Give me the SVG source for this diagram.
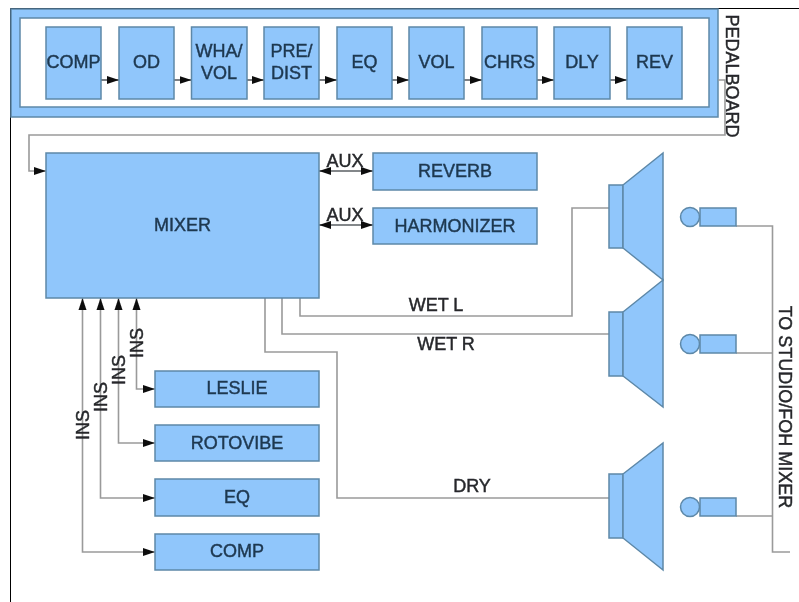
<svg xmlns="http://www.w3.org/2000/svg" width="799" height="602" viewBox="0 0 799 602">
<defs>
<filter id="soft" x="-2%" y="-2%" width="104%" height="104%"><feGaussianBlur stdDeviation="0.7"/></filter>
<marker id="a" markerUnits="userSpaceOnUse" markerWidth="13" markerHeight="10" refX="12" refY="5" orient="auto"><path d="M0,1 L12,5 L0,9 Z" fill="#111"/></marker>
<marker id="b" markerUnits="userSpaceOnUse" markerWidth="13" markerHeight="10" refX="12" refY="5" orient="auto-start-reverse"><path d="M0,1 L12,5 L0,9 Z" fill="#111"/></marker>
</defs>
<style>
.n{fill:#90c6fb;stroke:#5d88a8;stroke-width:1.5}
.c{fill:none;stroke:#9a9a9a;stroke-width:1.6}
.s{stroke:#5a5f64}
text{font-family:"Liberation Sans",Arial,sans-serif;font-size:18px;fill:#1f3850;stroke:#1f3850;stroke-width:.45;text-anchor:middle;dominant-baseline:central}
.k{fill:#26282b;stroke:#26282b;font-size:18px}
</style>
<rect width="799" height="602" fill="#fff"/>
<path d="M10.500,602V8.500H799" fill="none" stroke="#000" stroke-width="1"/>
<g filter="url(#soft)">
<g id="pedalboard">
<rect class="n" x="11" y="9" width="707" height="108"/>
<rect x="20" y="18" width="689" height="89" fill="#fff" stroke="#5d88a8" stroke-width="1.500"/>
<text class="k" transform="translate(732,76) rotate(90)">PEDALBOARD</text>
</g>
<g id="connectors">
<path class="c s" marker-end="url(#a)" d="M101,80H119"/>
<path class="c s" marker-end="url(#a)" d="M174,80H191.500"/>
<path class="c s" marker-end="url(#a)" d="M247,80H264"/>
<path class="c s" marker-end="url(#a)" d="M319,80H337"/>
<path class="c s" marker-end="url(#a)" d="M392,80H409"/>
<path class="c s" marker-end="url(#a)" d="M464,80H482"/>
<path class="c s" marker-end="url(#a)" d="M537,80H554"/>
<path class="c s" marker-end="url(#a)" d="M610,80H627"/>
<path class="c" marker-end="url(#a)" d="M718,80H725V135H29V171H46"/>
<path class="c s" marker-start="url(#b)" marker-end="url(#b)" d="M319,171H373"/>
<path class="c s" marker-start="url(#b)" marker-end="url(#b)" d="M319,225H373"/>
<path class="c" marker-start="url(#b)" marker-end="url(#a)" d="M136.500,298V389H155"/>
<path class="c" marker-start="url(#b)" marker-end="url(#a)" d="M118.500,298V443H155"/>
<path class="c" marker-start="url(#b)" marker-end="url(#a)" d="M100.500,298V498H155"/>
<path class="c" marker-start="url(#b)" marker-end="url(#a)" d="M82.500,298V552H155"/>
<path class="c" d="M300,298V316H572V208H609"/>
<path class="c" d="M282,298V334H609"/>
<path class="c" d="M265,298V352H337V498H609"/>
<path class="c" d="M736,226H772.500V552H790M736,353H772.500M736,516H772.500"/>
</g>
<g id="comp1"><rect class="n" x="46" y="27" width="55" height="72"/><text x="73.500" y="62">COMP</text></g>
<g id="od"><rect class="n" x="119" y="27" width="55" height="72"/><text x="146.500" y="62">OD</text></g>
<g id="wha"><rect class="n" x="191.500" y="27" width="55.500" height="72"/><text x="219" y="51">WHA/</text><text x="219" y="73">VOL</text></g>
<g id="pre"><rect class="n" x="264" y="27" width="55" height="72"/><text x="291.500" y="51">PRE/</text><text x="291.500" y="73">DIST</text></g>
<g id="eq1"><rect class="n" x="337" y="27" width="55" height="72"/><text x="364.500" y="62">EQ</text></g>
<g id="vol"><rect class="n" x="409" y="27" width="55" height="72"/><text x="436.500" y="62">VOL</text></g>
<g id="chrs"><rect class="n" x="482" y="27" width="55" height="72"/><text x="509.500" y="62">CHRS</text></g>
<g id="dly"><rect class="n" x="554" y="27" width="56" height="72"/><text x="582" y="62">DLY</text></g>
<g id="rev"><rect class="n" x="627" y="27" width="55" height="72"/><text x="654.500" y="62">REV</text></g>
<g id="mixer"><rect class="n" x="46" y="153" width="273" height="145"/><text x="182.500" y="225">MIXER</text></g>
<g id="reverb"><rect class="n" x="373" y="153" width="164" height="37"/><text x="455" y="171">REVERB</text></g>
<g id="harmonizer"><rect class="n" x="373" y="208" width="164" height="36"/><text x="455" y="226">HARMONIZER</text></g>
<g id="leslie"><rect class="n" x="155" y="371" width="164" height="36"/><text x="237" y="388">LESLIE</text></g>
<g id="rotovibe"><rect class="n" x="155" y="425" width="164" height="36"/><text x="237" y="443">ROTOVIBE</text></g>
<g id="eq2"><rect class="n" x="155" y="479" width="164" height="37"/><text x="237" y="497">EQ</text></g>
<g id="comp2"><rect class="n" x="155" y="534" width="164" height="36"/><text x="237" y="551">COMP</text></g>
<g id="speaker1"><rect class="n" x="609" y="185" width="14" height="63"/><path class="n" d="M623,185L663,153V280L623,248Z"/></g>
<g id="speaker2"><rect class="n" x="609" y="312" width="14" height="64"/><path class="n" d="M623,312L663,280V407L623,376Z"/></g>
<g id="speaker3"><rect class="n" x="609" y="474" width="14" height="64"/><path class="n" d="M623,474L663,443V570L623,538Z"/></g>
<g id="mic1"><circle class="n" cx="690" cy="217" r="9.500"/><rect class="n" x="700" y="208" width="36" height="18"/></g>
<g id="mic2"><circle class="n" cx="690" cy="344" r="9.500"/><rect class="n" x="700" y="335" width="36" height="18"/></g>
<g id="mic3"><circle class="n" cx="690" cy="507" r="9.500"/><rect class="n" x="700" y="498" width="36" height="18"/></g>
<g id="labels">
<text class="k" x="345" y="161">AUX</text>
<text class="k" x="345" y="215">AUX</text>
<text class="k" x="436" y="305">WET L</text>
<text class="k" x="446" y="344">WET R</text>
<text class="k" x="472" y="486">DRY</text>
<text class="k" transform="translate(136.500,343) rotate(-90)">INS</text>
<text class="k" transform="translate(118.500,370) rotate(-90)">INS</text>
<text class="k" transform="translate(100.500,397) rotate(-90)">INS</text>
<text class="k" transform="translate(82.500,425) rotate(-90)">INS</text>
<text class="k" transform="translate(785,407) rotate(90)">TO STUDIO/FOH MIXER</text>
</g>
</g>
</svg>
